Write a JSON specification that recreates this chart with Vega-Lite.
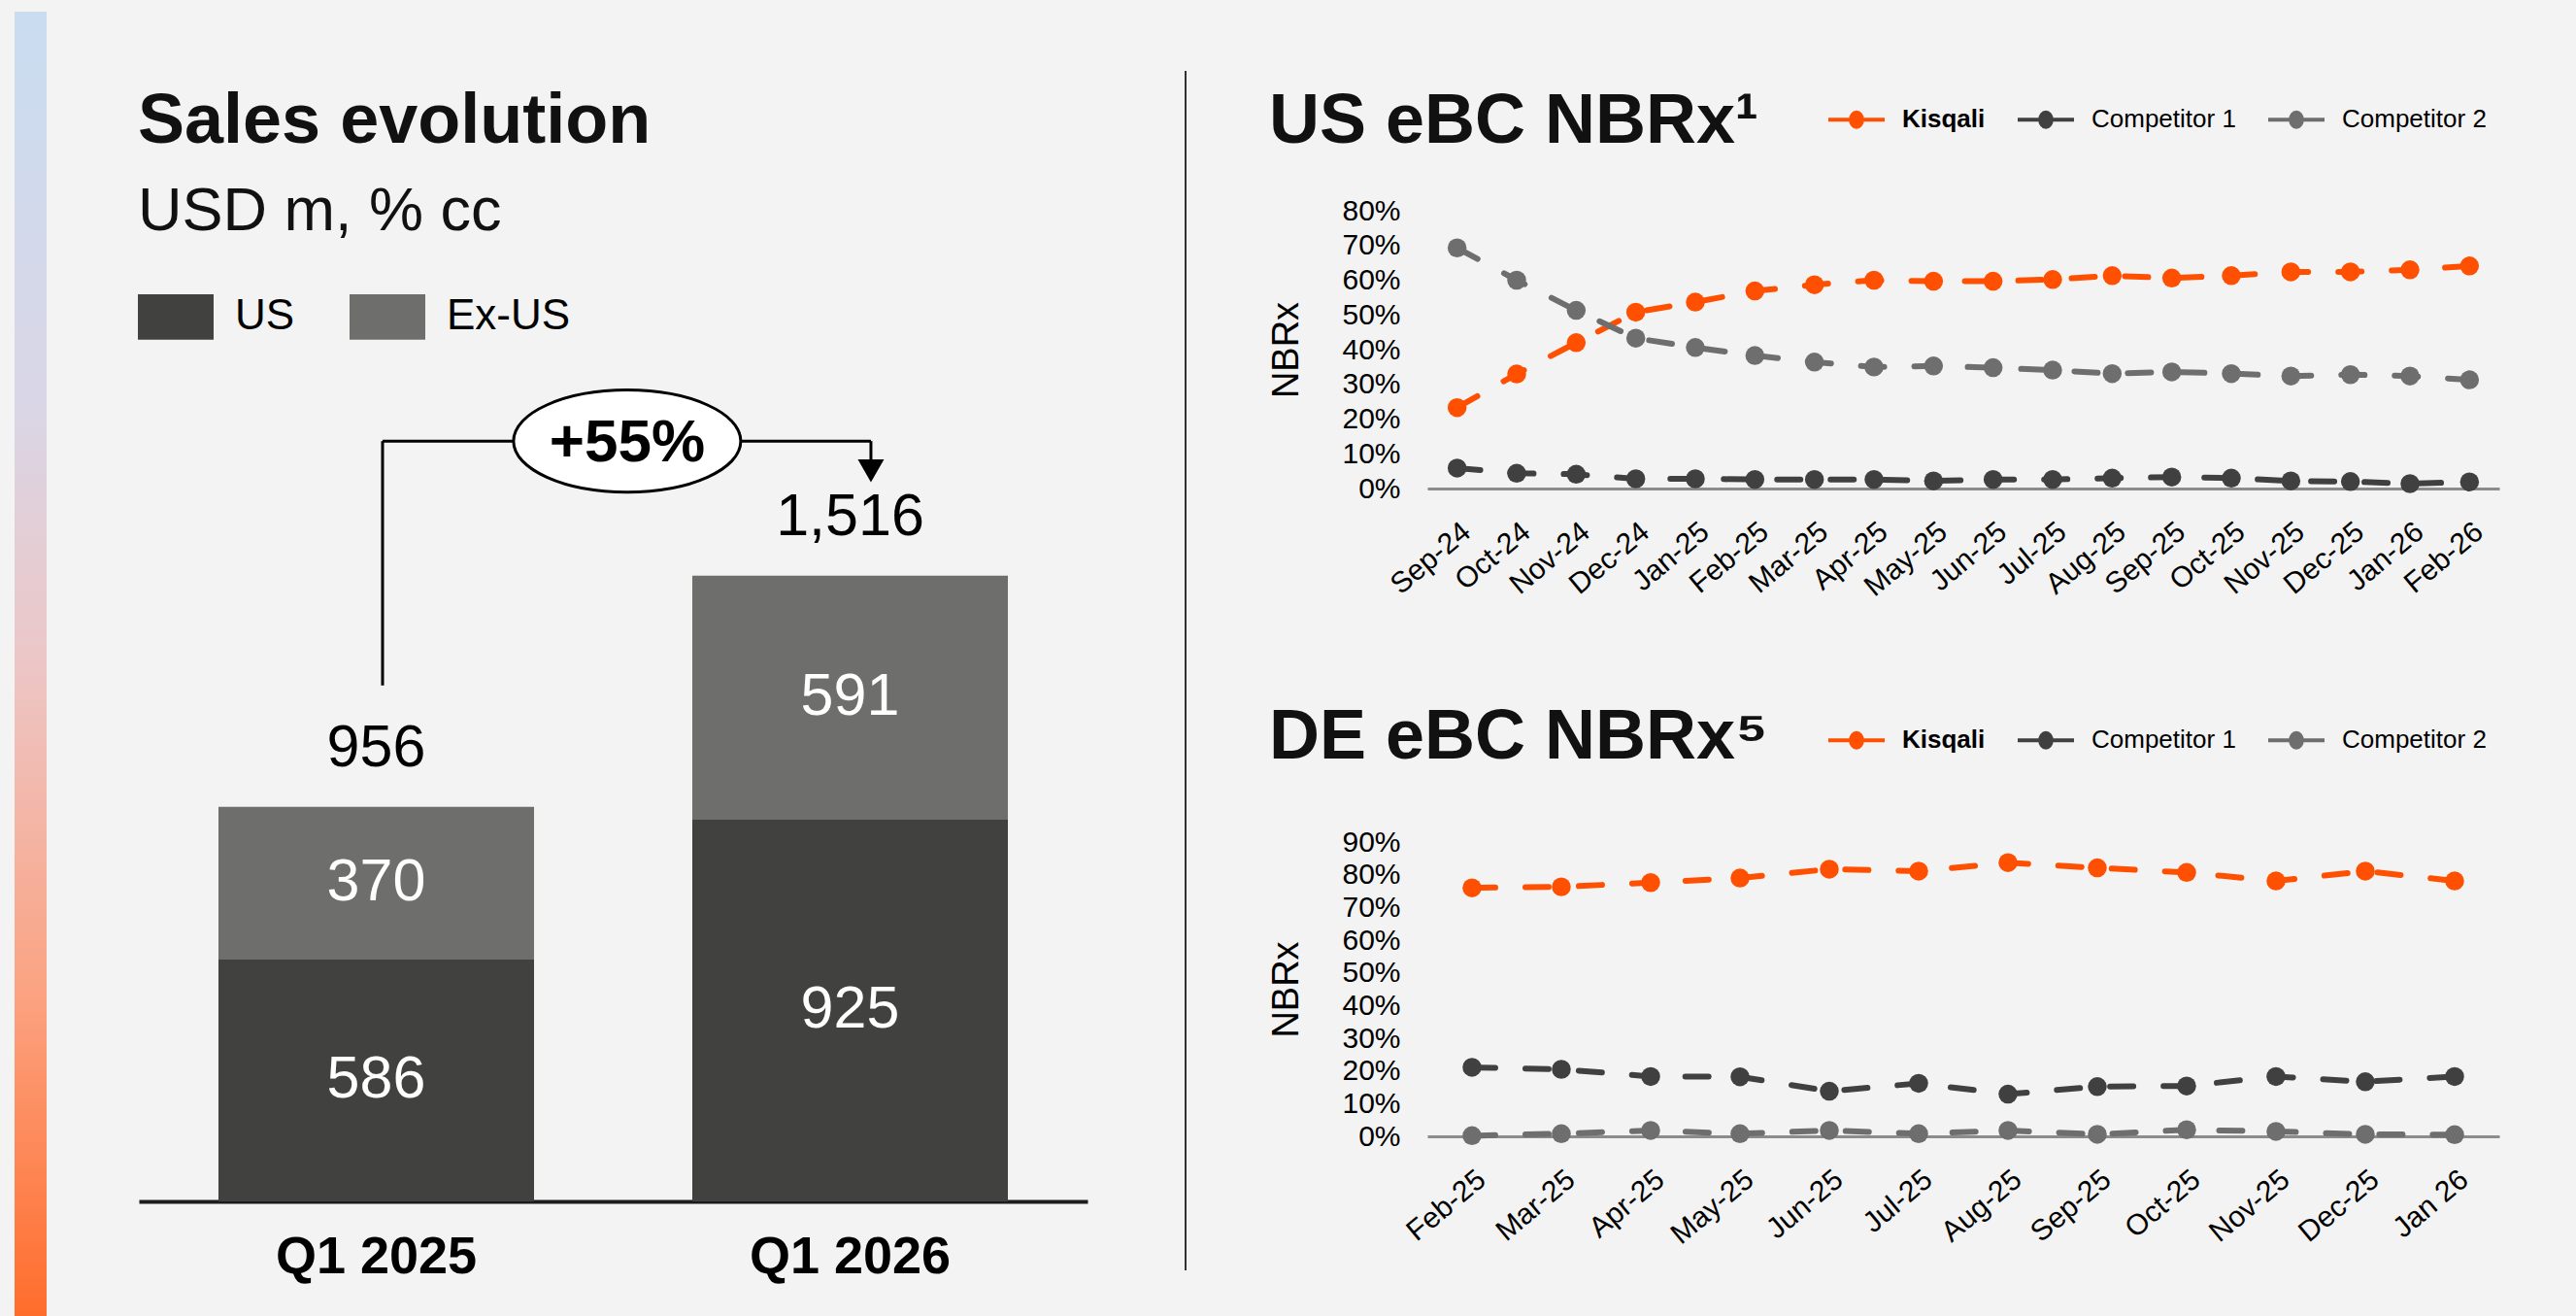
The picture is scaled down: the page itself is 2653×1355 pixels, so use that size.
{
  "$schema": "https://vega.github.io/schema/vega-lite/v6.json",
  "background": "#f3f3f3",
  "padding": {"left": 15, "top": 12, "right": 80, "bottom": 0},
  "config": {
    "font": "Liberation Sans",
    "view": {"stroke": null},
    "axis": {"grid": false, "ticks": false, "labelColor": "#000", "titleColor": "#000", "labelFont": "Liberation Sans", "titleFont": "Liberation Sans"},
    "title": {"color": "#111", "anchor": "start", "font": "Liberation Sans", "fontWeight": "bold", "fontSize": 72},
    "legend": {"labelFont": "Liberation Sans", "labelColor": "#000", "padding": 0}
  },
  "datasets": {
    "strip": [{"k": 1}],
    "sales": [
      {"quarter": "Q1 2025", "region": "US", "value": 586},
      {"quarter": "Q1 2025", "region": "Ex-US", "value": 370},
      {"quarter": "Q1 2026", "region": "US", "value": 925},
      {"quarter": "Q1 2026", "region": "Ex-US", "value": 591}
    ],
    "us": [
      {"month": "Sep-24", "series": "Kisqali", "share": 23.3}, {"month": "Oct-24", "series": "Kisqali", "share": 33}, {"month": "Nov-24", "series": "Kisqali", "share": 42}, {"month": "Dec-24", "series": "Kisqali", "share": 50.8}, {"month": "Jan-25", "series": "Kisqali", "share": 53.7}, {"month": "Feb-25", "series": "Kisqali", "share": 56.9}, {"month": "Mar-25", "series": "Kisqali", "share": 58.7}, {"month": "Apr-25", "series": "Kisqali", "share": 60}, {"month": "May-25", "series": "Kisqali", "share": 59.7}, {"month": "Jun-25", "series": "Kisqali", "share": 59.7}, {"month": "Jul-25", "series": "Kisqali", "share": 60.2}, {"month": "Aug-25", "series": "Kisqali", "share": 61.3}, {"month": "Sep-25", "series": "Kisqali", "share": 60.6}, {"month": "Oct-25", "series": "Kisqali", "share": 61.3}, {"month": "Nov-25", "series": "Kisqali", "share": 62.4}, {"month": "Dec-25", "series": "Kisqali", "share": 62.4}, {"month": "Jan-26", "series": "Kisqali", "share": 63}, {"month": "Feb-26", "series": "Kisqali", "share": 64.1},
      {"month": "Sep-24", "series": "Competitor 1", "share": 5.9}, {"month": "Oct-24", "series": "Competitor 1", "share": 4.4}, {"month": "Nov-24", "series": "Competitor 1", "share": 4.1}, {"month": "Dec-24", "series": "Competitor 1", "share": 2.8}, {"month": "Jan-25", "series": "Competitor 1", "share": 2.8}, {"month": "Feb-25", "series": "Competitor 1", "share": 2.6}, {"month": "Mar-25", "series": "Competitor 1", "share": 2.6}, {"month": "Apr-25", "series": "Competitor 1", "share": 2.6}, {"month": "May-25", "series": "Competitor 1", "share": 2.2}, {"month": "Jun-25", "series": "Competitor 1", "share": 2.6}, {"month": "Jul-25", "series": "Competitor 1", "share": 2.6}, {"month": "Aug-25", "series": "Competitor 1", "share": 3}, {"month": "Sep-25", "series": "Competitor 1", "share": 3.3}, {"month": "Oct-25", "series": "Competitor 1", "share": 3}, {"month": "Nov-25", "series": "Competitor 1", "share": 2.2}, {"month": "Dec-25", "series": "Competitor 1", "share": 2}, {"month": "Jan-26", "series": "Competitor 1", "share": 1.4}, {"month": "Feb-26", "series": "Competitor 1", "share": 1.9},
      {"month": "Sep-24", "series": "Competitor 2", "share": 69.3}, {"month": "Oct-24", "series": "Competitor 2", "share": 60}, {"month": "Nov-24", "series": "Competitor 2", "share": 51.3}, {"month": "Dec-24", "series": "Competitor 2", "share": 43.3}, {"month": "Jan-25", "series": "Competitor 2", "share": 40.6}, {"month": "Feb-25", "series": "Competitor 2", "share": 38.3}, {"month": "Mar-25", "series": "Competitor 2", "share": 36.4}, {"month": "Apr-25", "series": "Competitor 2", "share": 35}, {"month": "May-25", "series": "Competitor 2", "share": 35.3}, {"month": "Jun-25", "series": "Competitor 2", "share": 34.8}, {"month": "Jul-25", "series": "Competitor 2", "share": 34.1}, {"month": "Aug-25", "series": "Competitor 2", "share": 33.1}, {"month": "Sep-25", "series": "Competitor 2", "share": 33.6}, {"month": "Oct-25", "series": "Competitor 2", "share": 33.1}, {"month": "Nov-25", "series": "Competitor 2", "share": 32.4}, {"month": "Dec-25", "series": "Competitor 2", "share": 32.8}, {"month": "Jan-26", "series": "Competitor 2", "share": 32.4}, {"month": "Feb-26", "series": "Competitor 2", "share": 31.3}
    ],
    "de": [
      {"month": "Feb-25", "series": "Kisqali", "share": 76}, {"month": "Mar-25", "series": "Kisqali", "share": 76.3}, {"month": "Apr-25", "series": "Kisqali", "share": 77.6}, {"month": "May-25", "series": "Kisqali", "share": 79}, {"month": "Jun-25", "series": "Kisqali", "share": 81.7}, {"month": "Jul-25", "series": "Kisqali", "share": 81.1}, {"month": "Aug-25", "series": "Kisqali", "share": 83.7}, {"month": "Sep-25", "series": "Kisqali", "share": 82.1}, {"month": "Oct-25", "series": "Kisqali", "share": 80.7}, {"month": "Nov-25", "series": "Kisqali", "share": 78.1}, {"month": "Dec-25", "series": "Kisqali", "share": 81.1}, {"month": "Jan 26", "series": "Kisqali", "share": 78.1},
      {"month": "Feb-25", "series": "Competitor 1", "share": 21.1}, {"month": "Mar-25", "series": "Competitor 1", "share": 20.5}, {"month": "Apr-25", "series": "Competitor 1", "share": 18.3}, {"month": "May-25", "series": "Competitor 1", "share": 18.2}, {"month": "Jun-25", "series": "Competitor 1", "share": 13.8}, {"month": "Jul-25", "series": "Competitor 1", "share": 16.2}, {"month": "Aug-25", "series": "Competitor 1", "share": 12.9}, {"month": "Sep-25", "series": "Competitor 1", "share": 15.2}, {"month": "Oct-25", "series": "Competitor 1", "share": 15.4}, {"month": "Nov-25", "series": "Competitor 1", "share": 18.3}, {"month": "Dec-25", "series": "Competitor 1", "share": 16.7}, {"month": "Jan 26", "series": "Competitor 1", "share": 18.3},
      {"month": "Feb-25", "series": "Competitor 2", "share": 0.2}, {"month": "Mar-25", "series": "Competitor 2", "share": 0.8}, {"month": "Apr-25", "series": "Competitor 2", "share": 1.8}, {"month": "May-25", "series": "Competitor 2", "share": 0.8}, {"month": "Jun-25", "series": "Competitor 2", "share": 1.8}, {"month": "Jul-25", "series": "Competitor 2", "share": 0.8}, {"month": "Aug-25", "series": "Competitor 2", "share": 1.8}, {"month": "Sep-25", "series": "Competitor 2", "share": 0.6}, {"month": "Oct-25", "series": "Competitor 2", "share": 2}, {"month": "Nov-25", "series": "Competitor 2", "share": 1.5}, {"month": "Dec-25", "series": "Competitor 2", "share": 0.6}, {"month": "Jan 26", "series": "Competitor 2", "share": 0.5}
    ]
  },
  "spacing": 94,
  "resolve": {"scale": {"x": "independent", "y": "independent", "color": "independent"}, "legend": {"color": "independent"}},
  "hconcat": [
    {
      "data": {"name": "strip"},
      "width": 33,
      "height": 1138,
      "mark": {"type": "rect", "yOffset": -205, "color": {"gradient": "linear", "x1": 0, "y1": 0, "x2": 0, "y2": 1, "stops": [{"offset": 0, "color": "#c9dcf0"}, {"offset": 0.3, "color": "#d9d6e6"}, {"offset": 0.5, "color": "#ecc6c6"}, {"offset": 0.75, "color": "#fba382"}, {"offset": 1, "color": "#ff6d2c"}]}},
      "encoding": {}
    },
    {
      "spacing": 84,
      "resolve": {"scale": {"x": "independent", "y": "independent", "color": "independent"}, "legend": {"color": "independent"}},
      "hconcat": [
        {
          "width": 977,
          "height": 1020,
          "title": {"text": "Sales evolution", "subtitle": "USD m, % cc", "subtitleFont": "Liberation Sans", "subtitleFontSize": 63, "subtitleColor": "#111", "subtitlePadding": 25, "offset": -34},
          "data": {"name": "sales"},
          "encoding": {
            "x": {"field": "quarter", "type": "nominal", "sort": null, "scale": {"paddingInner": 0.334, "paddingOuter": 0.168},
              "axis": {"title": null, "labelAngle": 0, "labelFontSize": 54, "labelFontWeight": "bold", "labelPadding": 30, "labelLimit": 600, "domainColor": "#1c1c1c", "domainWidth": 4}}
          },
          "layer": [
            {
              "mark": {"type": "bar"},
              "encoding": {
                "y": {"field": "value", "type": "quantitative", "stack": "zero", "scale": {"domain": [0, 2400]}, "axis": null},
                "order": {"field": "region", "sort": "descending"},
                "color": {"field": "region", "type": "nominal", "sort": ["US", "Ex-US"], "scale": {"domain": ["US", "Ex-US"], "range": ["#41413f", "#6e6e6c"]},
                  "legend": {"orient": "none", "legendX": -1, "legendY": 70, "direction": "horizontal", "title": null, "symbolType": "M-1,-0.6L1,-0.6L1,0.6L-1,0.6Z", "symbolSize": 6084, "symbolStrokeWidth": 0, "labelFontSize": 44, "labelOffset": 22, "columnPadding": 56}}
              }
            },
            {
              "mark": {"type": "text", "color": "#ffffff", "fontSize": 61, "baseline": "middle"},
              "encoding": {
                "y": {"field": "value", "type": "quantitative", "stack": "zero", "bandPosition": 0.5},
                "order": {"field": "region", "sort": "descending"},
                "detail": {"field": "region"},
                "text": {"field": "value", "type": "quantitative"}
              }
            },
            {
              "mark": {"type": "text", "color": "#000000", "fontSize": 61, "baseline": "alphabetic", "dy": -42},
              "encoding": {
                "y": {"aggregate": "sum", "field": "value", "type": "quantitative"},
                "text": {"aggregate": "sum", "field": "value", "type": "quantitative", "format": ","}
              }
            },
            {
              "data": {"values": [{"note": "growth"}]},
              "layer": [
                {"mark": {"type": "rule", "color": "#000", "strokeWidth": 3},
                  "encoding": {"x": {"datum": "Q1 2025", "bandPosition": 0.52}, "y": {"datum": 1842}, "y2": {"datum": 1250}}},
                {"mark": {"type": "rule", "color": "#000", "strokeWidth": 3},
                  "encoding": {"x": {"datum": "Q1 2025", "bandPosition": 0.52}, "x2": {"datum": "Q1 2026", "bandPosition": 0.566}, "y": {"datum": 1842}}},
                {"mark": {"type": "rule", "color": "#000", "strokeWidth": 3},
                  "encoding": {"x": {"datum": "Q1 2026", "bandPosition": 0.566}, "y": {"datum": 1842}, "y2": {"datum": 1780}}},
                {"mark": {"type": "point", "shape": "triangle-down", "filled": true, "color": "#000", "opacity": 1, "size": 729},
                  "encoding": {"x": {"datum": "Q1 2026", "bandPosition": 0.566}, "y": {"datum": 1770}}},
                {"mark": {"type": "point", "shape": "M-1,0A1,0.449 0 1,1 1,0A1,0.449 0 1,1 -1,0Z", "filled": false, "fill": "#ffffff", "fillOpacity": 1, "stroke": "#000", "strokeWidth": 3, "opacity": 1, "size": 54756},
                  "encoding": {"x": {"datum": "Q1 2025", "bandPosition": 1.295}, "y": {"datum": 1842}}},
                {"mark": {"type": "text", "fontSize": 62, "fontWeight": "bold", "color": "#000", "baseline": "middle", "align": "center", "dy": 2},
                  "encoding": {"x": {"datum": "Q1 2025", "bandPosition": 1.295}, "y": {"datum": 1842}, "text": {"value": "+55%"}}}
              ]
            }
          ]
        },
        {
          "width": 17,
          "height": 1091,
          "data": {"values": [{"divider": 1}]},
          "mark": {"type": "rule", "color": "#333333", "strokeWidth": 2, "yOffset": -144},
          "encoding": {"x": {"datum": 1, "type": "quantitative", "scale": {"domain": [0, 1]}, "axis": null}}
        },
        {
          "spacing": 103,
          "resolve": {"scale": {"x": "independent", "y": "independent", "color": "independent"}, "legend": {"color": "independent"}},
          "vconcat": [
            {
              "width": 1104,
              "height": 286,
              "title": {"text": "US eBC NBRx¹", "offset": -70},
              "data": {"name": "us"},
              "encoding": {
                "x": {"field": "month", "type": "ordinal", "sort": null, "scale": {"type": "point", "padding": 0.5},
                  "axis": {"title": null, "labelAngle": -40, "labelFontSize": 30, "labelPadding": 29, "domainColor": "#8c8c8c", "domainWidth": 3}},
                "y": {"field": "share", "type": "quantitative", "scale": {"domain": [0, 80]},
                  "axis": {"title": "NBRx", "titleFontSize": 38, "titleFontWeight": "normal", "titlePadding": 37, "labelFontSize": 30, "labelPadding": 28, "domain": false, "values": [0, 10, 20, 30, 40, 50, 60, 70, 80], "labelExpr": "datum.value + '%'"}},
                "color": {"field": "series", "type": "nominal", "scale": {"domain": ["Kisqali", "Competitor 1", "Competitor 2"], "range": ["#fe5000", "#404040", "#6e6e6e"]},
                  "legend": {"orient": "none", "legendX": 411, "legendY": -125, "direction": "horizontal", "title": null, "symbolType": "M-1,0L1,0M0.2,0A0.2,0.26 0 1,1 -0.2,0A0.2,0.26 0 1,1 0.2,0M0.08,0A0.08,0.12 0 1,1 -0.08,0A0.08,0.12 0 1,1 0.08,0", "symbolSize": 3364, "symbolStrokeWidth": 4, "labelFontSize": 26, "labelOffset": 16, "columnPadding": 25,
                    "encode": {"labels": {"update": {"fontWeight": {"signal": "datum.value === 'Kisqali' ? 'bold' : 'normal'"}}}}}}
              },
              "layer": [
                {"mark": {"type": "line", "strokeWidth": 6, "strokeDash": [24, 31], "strokeCap": "round"}},
                {"mark": {"type": "point", "filled": true, "size": 380, "opacity": 1}}
              ]
            },
            {
              "width": 1104,
              "height": 303,
              "title": {"text": "DE eBC NBRx⁵", "offset": -65},
              "data": {"name": "de"},
              "encoding": {
                "x": {"field": "month", "type": "ordinal", "sort": null, "scale": {"type": "point", "padding": 0.5},
                  "axis": {"title": null, "labelAngle": -40, "labelFontSize": 30, "labelPadding": 29, "domainColor": "#8c8c8c", "domainWidth": 3}},
                "y": {"field": "share", "type": "quantitative", "scale": {"domain": [0, 90]},
                  "axis": {"title": "NBRx", "titleFontSize": 38, "titleFontWeight": "normal", "titlePadding": 37, "labelFontSize": 30, "labelPadding": 28, "domain": false, "values": [0, 10, 20, 30, 40, 50, 60, 70, 80, 90], "labelExpr": "datum.value + '%'"}},
                "color": {"field": "series", "type": "nominal", "scale": {"domain": ["Kisqali", "Competitor 1", "Competitor 2"], "range": ["#fe5000", "#404040", "#6e6e6e"]},
                  "legend": {"orient": "none", "legendX": 411, "legendY": -136, "direction": "horizontal", "title": null, "symbolType": "M-1,0L1,0M0.2,0A0.2,0.26 0 1,1 -0.2,0A0.2,0.26 0 1,1 0.2,0M0.08,0A0.08,0.12 0 1,1 -0.08,0A0.08,0.12 0 1,1 0.08,0", "symbolSize": 3364, "symbolStrokeWidth": 4, "labelFontSize": 26, "labelOffset": 16, "columnPadding": 25,
                    "encode": {"labels": {"update": {"fontWeight": {"signal": "datum.value === 'Kisqali' ? 'bold' : 'normal'"}}}}}}
              },
              "layer": [
                {"mark": {"type": "line", "strokeWidth": 6, "strokeDash": [24, 31], "strokeCap": "round"}},
                {"mark": {"type": "point", "filled": true, "size": 380, "opacity": 1}}
              ]
            }
          ]
        }
      ]
    }
  ]
}
